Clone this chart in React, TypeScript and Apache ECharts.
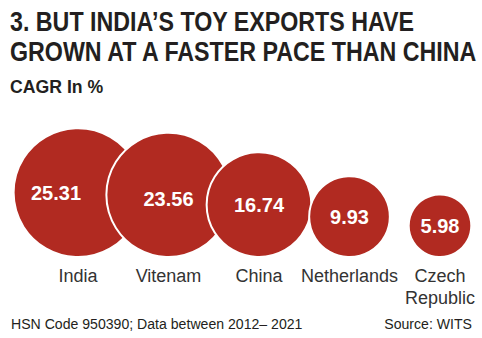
import React, { useEffect, useRef } from "react";
import * as echarts from "echarts";

const countries = ["India", "Vitenam", "China", "Netherlands", "Czech\nRepublic"];
const cagr = [25.31, 23.56, 16.74, 9.93, 5.98];

const titleLines = ["3. BUT INDIA’S TOY EXPORTS HAVE", "GROWN AT A FASTER PACE THAN CHINA"];
const subtitle = "CAGR In %";
const footLeft = "HSN Code 950390; Data between 2012– 2021";
const footRight = "Source: WITS";

const RED = "#B12A21";
const DARK = "#231F20";
const SANS = "'Liberation Sans', Arial, sans-serif";

export default function App() {
  const ref = useRef<HTMLDivElement>(null);
  useEffect(() => {
    if (!ref.current) return;
    const chart = echarts.init(ref.current, null, { renderer: "svg" });
    const k = 12.8;
    const labelOffsets: Record<number, number[]> = { 0: [-22, 0], 1: [0, 4] };
    chart.setOption({
      animation: false,
      backgroundColor: "#ffffff",
      graphic: [
        {
          type: "text",
          x: 10,
          y: 7,
          scaleX: 0.83,
          style: {
            text: titleLines[0],
            font: `bold 28px ${SANS}`,
            fill: DARK,
            textAlign: "left",
            textVerticalAlign: "top",
          },
        },
        {
          type: "text",
          x: 10,
          y: 37,
          scaleX: 0.83,
          style: {
            text: titleLines[1],
            font: `bold 28px ${SANS}`,
            fill: DARK,
            textAlign: "left",
            textVerticalAlign: "top",
          },
        },
        {
          type: "text",
          x: 10,
          y: 77,
          scaleX: 0.93,
          style: {
            text: subtitle,
            font: `bold 19px ${SANS}`,
            fill: DARK,
            textAlign: "left",
            textVerticalAlign: "top",
          },
        },
        {
          type: "text",
          x: 11,
          y: 316,
          scaleX: 0.94,
          style: {
            text: footLeft,
            font: `15px ${SANS}`,
            fill: DARK,
            textAlign: "left",
            textVerticalAlign: "top",
          },
        },
        {
          type: "text",
          x: 472,
          y: 316,
          scaleX: 0.94,
          style: {
            text: footRight,
            font: `15px ${SANS}`,
            fill: DARK,
            textAlign: "right",
            textVerticalAlign: "top",
          },
        },
      ],
      grid: { left: 78, right: 42, top: 120, bottom: 81 },
      xAxis: {
        type: "category",
        data: countries,
        boundaryGap: false,
        axisLine: { show: false },
        axisTick: { show: false },
        axisLabel: {
          interval: 0,
          margin: 8,
          fontFamily: SANS,
          fontSize: 18,
          lineHeight: 22,
          color: "#333333",
        },
      },
      yAxis: { type: "value", min: 0, max: 1, show: false },
      series: [
        {
          type: "scatter",
          symbol: "circle",
          symbolOffset: [0, "-50%"],
          symbolSize: (v: number[]) => 2 * k * Math.sqrt(v[2]),
          itemStyle: { color: RED, borderColor: "#ffffff", borderWidth: 2, opacity: 1 },
          label: {
            show: true,
            position: "inside",
            formatter: (p: any) => p.value[2].toFixed(2),
            fontFamily: SANS,
            fontWeight: "bold",
            fontSize: 20,
            color: "#ffffff",
          },
          data: cagr.map((v, i) => ({
            value: [i, 0, v],
            label: labelOffsets[i] ? { offset: labelOffsets[i] } : undefined,
          })),
        },
      ],
    });
    return () => chart.dispose();
  }, []);
  return <div ref={ref} style={{ width: 482, height: 338, position: "absolute", left: 0, top: 0 }} />;
}
